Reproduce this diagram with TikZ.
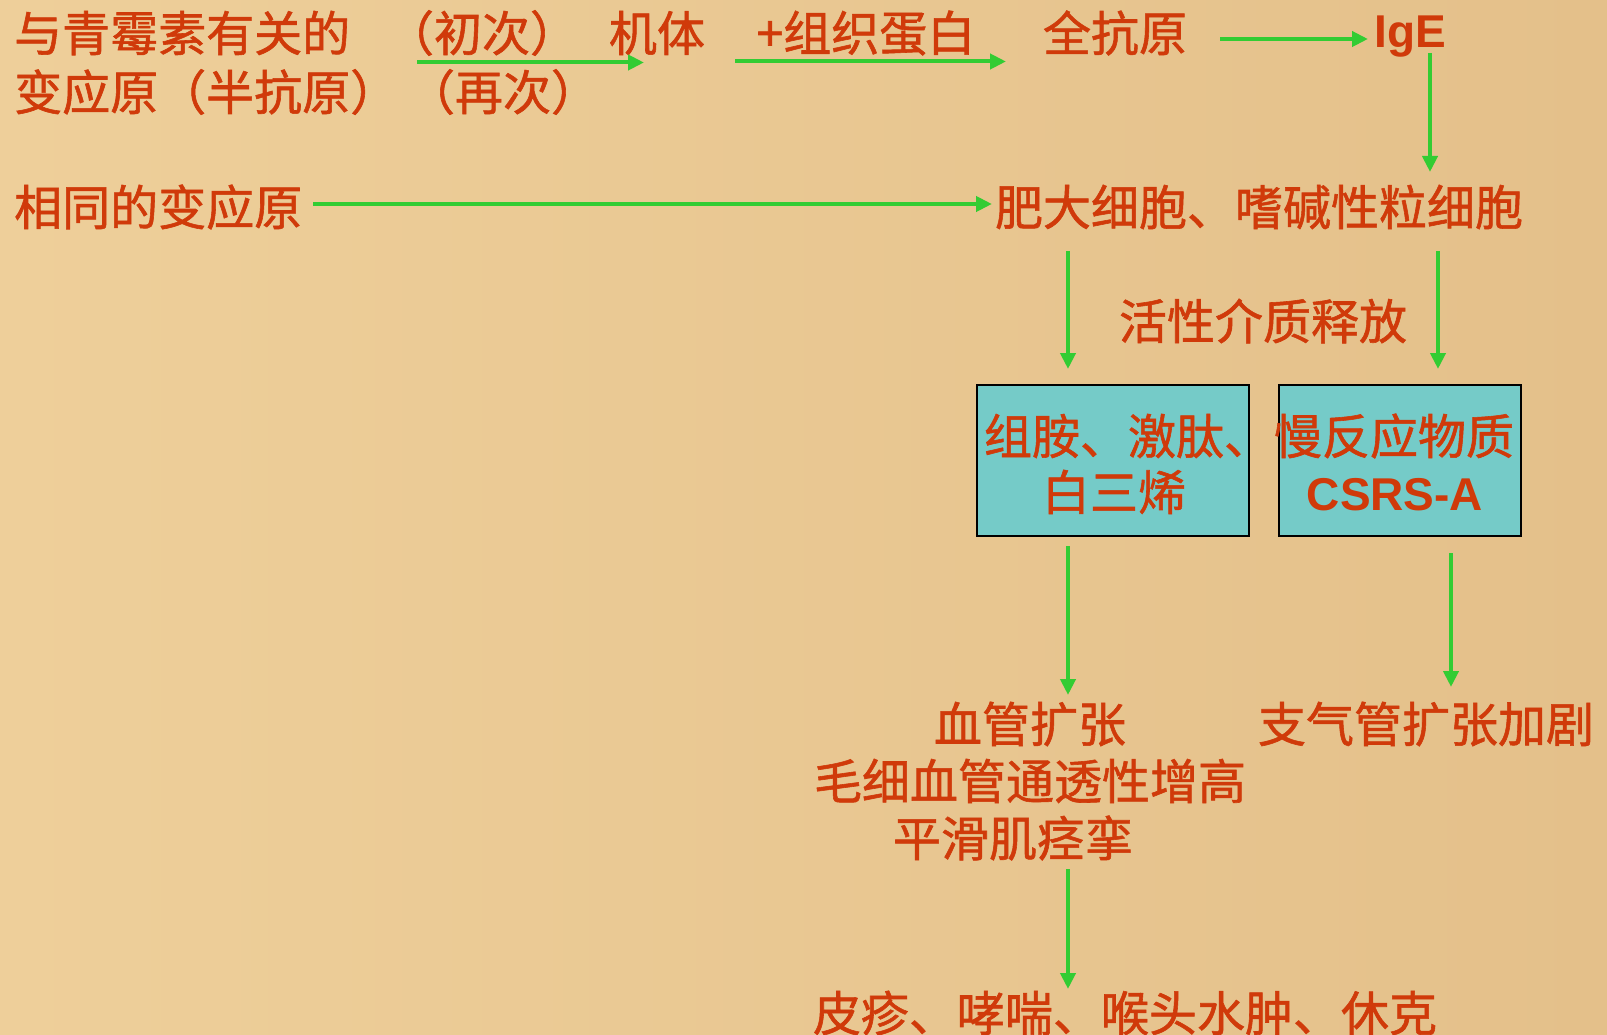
\documentclass[tikz,border=0pt]{standalone}
\usepackage{fontspec}
\usetikzlibrary{arrows.meta}
\newfontfamily\cjk{Noto Sans CJK SC}[FakeBold=1.2]
\newfontfamily\arialf{Liberation Sans}
\definecolor{txt}{RGB}{208,58,10}
\definecolor{arr}{RGB}{51,204,51}
\definecolor{boxc}{RGB}{117,203,200}
\definecolor{bgl}{RGB}{238,207,154}
\definecolor{bgr}{RGB}{228,192,138}
\tikzset{
  lbl/.style={text=txt, font=\cjk\fontsize{48}{56}\selectfont, inner sep=0pt},
  lat/.style={text=txt, font=\arialf\bfseries\fontsize{46}{56}\selectfont, inner sep=0pt},
  flow/.style={draw=arr, line width=4pt, -{Triangle[length=16pt,width=15pt]}},
  medbox/.style={draw=black, line width=2pt, fill=boxc, minimum height=151pt, inner sep=0pt}
}
\begin{document}
\begin{tikzpicture}[x=1pt,y=-1pt]
\shade[left color=bgl, right color=bgr] (0,0) rectangle (1607,1035);
\useasboundingbox (0,0) rectangle (1607,1035);
% text nodes
\node[lbl,anchor=west] (pen1) at (14,33) {与青霉素有关的};
\node[lbl,anchor=west] (pen2) at (14,92) {变应原（半抗原）};
\node[lbl] (first) at (482,33) {（初次）};
\node[lbl] (again) at (503,92) {（再次）};
\node[lbl] (body) at (657,33) {机体};
\node[lbl] (tissue) at (866,33) {+组织蛋白};
\node[lbl] (full) at (1115,33) {全抗原};
\node[lat] (ige) at (1410,37) {IgE};
\node[lbl,anchor=west] (same) at (14,207) {相同的变应原};
\node[lbl] (mast) at (1259,207) {肥大细胞、嗜碱性粒细胞};
\node[lbl] (release) at (1263,321) {活性介质释放};
\node[medbox, minimum width=272pt] (b1) at (1113,460.5) {};
\node[medbox, minimum width=242pt] (b2) at (1400,460.5) {};
\node[lbl] (t1a) at (1128,436) {组胺、激肽、};
\node[lbl] (t1b) at (1114,492) {白三烯};
\node[lbl] (t2a) at (1394,436) {慢反应物质};
\node[lat] (t2b) at (1395,495) {CSRS-A};
\node[lbl] (vaso) at (1030,724) {血管扩张};
\node[lbl] (bronch) at (1426,724) {支气管扩张加剧};
\node[lbl] (perm) at (1030,781) {毛细血管通透性增高};
\node[lbl] (smooth) at (1013,838) {平滑肌痉挛};
\node[lbl] (sympt) at (1125,1013) {皮疹、哮喘、喉头水肿、休克};
% arrow end points
\coordinate (a1s) at (417,62.5);  \coordinate (a1e) at (644,62.5);
\coordinate (a2s) at (735,61.5);  \coordinate (a2e) at (1006,61.5);
\coordinate (a3s) at (1220,39);   \coordinate (a3e) at (1368,39);
\coordinate (a4s) at (1430,53);   \coordinate (a4e) at (1430,172);
\coordinate (a5s) at (313,204);   \coordinate (a5e) at (992,204);
\coordinate (a6s) at (1068,251);  \coordinate (a6e) at (1068,369);
\coordinate (a7s) at (1438,251);  \coordinate (a7e) at (1438,369);
\coordinate (a8s) at (1068,546);  \coordinate (a8e) at (1068,695);
\coordinate (a9s) at (1451,553);  \coordinate (a9e) at (1451,687);
\coordinate (a10s) at (1068,869); \coordinate (a10e) at (1068,989);
\draw[flow] (a1s) -- (a1e);
\draw[flow] (a2s) -- (a2e);
\draw[flow] (a3s) -- (a3e);
\draw[flow] (a4s) -- (a4e);
\draw[flow] (a5s) -- (a5e);
\draw[flow] (a6s) -- (a6e);
\draw[flow] (a7s) -- (a7e);
\draw[flow] (a8s) -- (a8e);
\draw[flow] (a9s) -- (a9e);
\draw[flow] (a10s) -- (a10e);
\end{tikzpicture}
\end{document}
